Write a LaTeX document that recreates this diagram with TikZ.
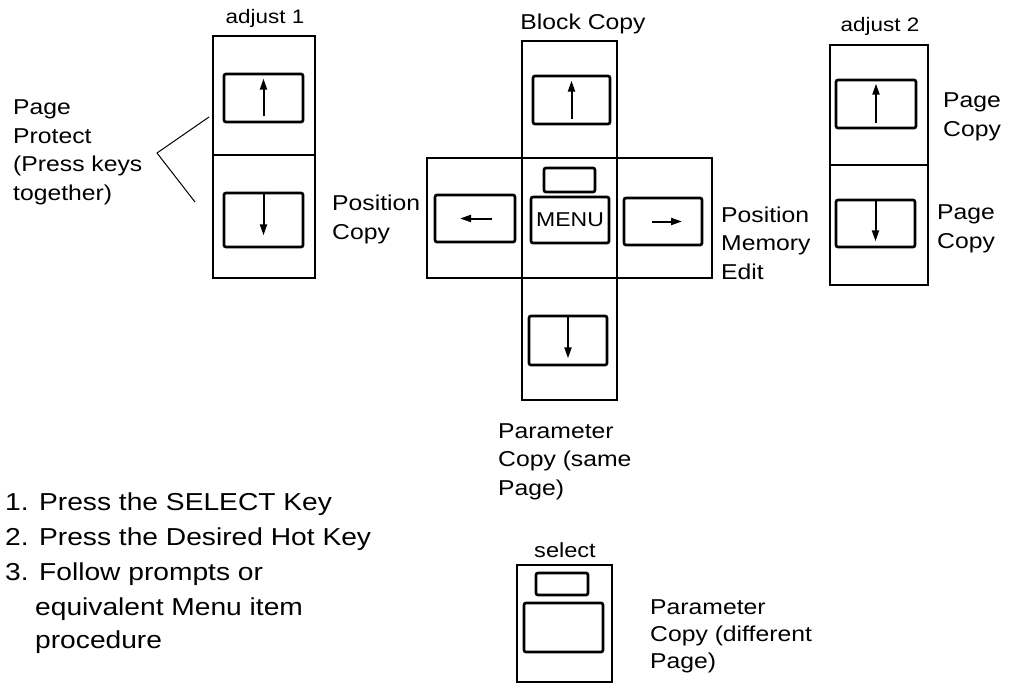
\documentclass[tikz,border=0pt]{standalone}
\usepackage{fontspec}
\setmainfont{Liberation Sans}[FakeStretch=1.15]
\usetikzlibrary{arrows.meta,fit}
\tikzset{
  outerbox/.style={draw, line width=2.4pt, inner sep=0pt},
  keybox/.style={draw, line width=2.7pt, rounded corners=2pt, inner sep=0pt},
  keyarrow/.style={line width=2pt, -{Triangle[length=11pt,width=7pt]}},
  lbl/.style={inner sep=0pt, align=left, anchor=base west, font=\fontsize{21.5}{28.5}\selectfont},
  listtxt/.style={inner sep=0pt, align=left, anchor=base west, font=\fontsize{24.5}{33}\selectfont},
  title/.style={inner sep=0pt, anchor=base, font=\fontsize{19.5}{22}\selectfont},
  thinline/.style={line width=1pt}
}
\begin{document}
\begin{tikzpicture}[x=1pt,y=-1pt]
\useasboundingbox (0,0) rectangle (1009,685);

% ---------- adjust 1 ----------
\node[title] (t1) at (265,24) {adjust 1};
\node[outerbox, fit={(213,36) (315,155)}] (a1u) {};
\node[outerbox, fit={(213,155) (315,278)}] (a1d) {};
\node[keybox, fit={(224,74) (303,122)}] (k1u) {};
\node[keybox, fit={(224,193) (303,247)}] (k1d) {};
\draw[keyarrow] ([yshift=7pt]k1u.south) -- ([yshift=-6pt]k1u.north);
\draw[keyarrow] (k1d.north) -- ([yshift=13pt]k1d.south);

% Page Protect (anchor = baseline of the last line)
\node[lbl] (pp) at (13,200) {Page\\Protect\\(Press keys\\together)};
\coordinate (ppv) at (157,153);
\coordinate (ppa) at (209,117);
\coordinate (ppb) at (195,202);
\draw[thinline] (ppa) -- (ppv) -- (ppb);

% ---------- centre cross ----------
\node[title, font=\fontsize{21.5}{24}\selectfont] (tb) at (583,30) {Block Copy};
\node[outerbox, fit={(427,158) (712,278)}] (bar) {};
\node[outerbox, fit={(522,41) (617,400)}] (col) {};
\node[keybox, fit={(533,76) (610,124)}] (kcu) {};
\node[keybox, fit={(544,168) (595,192)}] (kled) {};
\node[keybox, fit={(531,197) (609,243)}, label={[inner sep=0pt, font=\fontsize{20}{22}\selectfont]center:MENU}] (kmenu) {};
\node[keybox, fit={(435,195) (515,242)}] (kcl) {};
\node[keybox, fit={(624,198) (702,245)}] (kcr) {};
\node[keybox, fit={(529,316) (607,365)}] (kcd) {};
\draw[keyarrow] ([yshift=6pt]kcu.south) -- ([yshift=-6pt]kcu.north);
\draw[keyarrow] (kcd.north) -- ([yshift=8pt]kcd.south);
\draw[keyarrow] ([xshift=17pt]kcl.center) -- ([xshift=-15pt]kcl.center);
\draw[keyarrow] ([xshift=-11pt]kcr.center) -- ([xshift=19pt]kcr.center);

\node[lbl] (pc) at (332,239) {Position\\Copy};
\node[lbl] (pme) at (721,279) {Position\\Memory\\Edit};
\node[lbl] (pcs) at (498,495) {Parameter\\Copy (same\\Page)};

% ---------- adjust 2 ----------
\node[title] (t2) at (880,32) {adjust 2};
\node[outerbox, fit={(830,45) (928,165)}] (a2u) {};
\node[outerbox, fit={(830,165) (928,285)}] (a2d) {};
\node[keybox, fit={(836,80) (916,128)}] (k2u) {};
\node[keybox, fit={(836,200) (915,247)}] (k2d) {};
\draw[keyarrow] ([yshift=6pt]k2u.south) -- ([yshift=-5pt]k2u.north);
\draw[keyarrow] (k2d.north) -- ([yshift=7pt]k2d.south);
\node[lbl] (pcu) at (943,136) {Page\\Copy};
\node[lbl] (pcd) at (937,248) {Page\\Copy};

% ---------- select ----------
\node[title, font=\fontsize{20.5}{22}\selectfont] (ts) at (565,557) {select};
\node[outerbox, fit={(517,565) (612,682)}] (sel) {};
\node[keybox, fit={(536,573) (588,595)}] (sled) {};
\node[keybox, fit={(524,603) (603,652)}] (skey) {};
\node[lbl, font=\fontsize{21.5}{27}\selectfont] (pcdiff) at (650,668) {Parameter\\Copy (different\\Page)};

% ---------- list ----------
\node[listtxt] (l1) at (5,510) {1. Press the SELECT Key};
\node[listtxt] (l2) at (5,545) {2. Press the Desired Hot Key};
\node[listtxt] (l3) at (5,580) {3. Follow prompts or};
\node[listtxt] (l4) at (35,648) {equivalent Menu item\\procedure};
\end{tikzpicture}
\end{document}
